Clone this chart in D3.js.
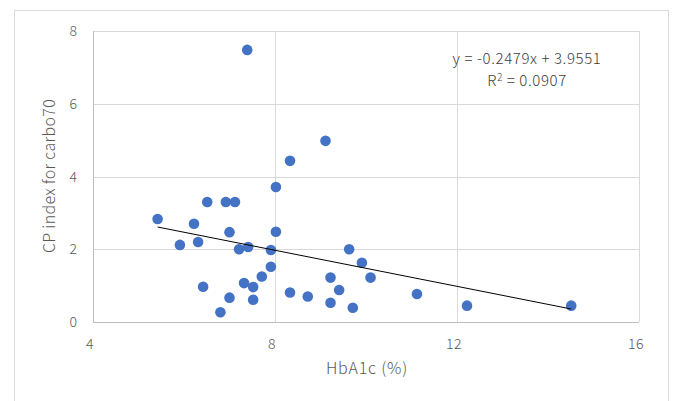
<!DOCTYPE html>
<html>
<head>
<meta charset="utf-8">
<title>CP index vs HbA1c</title>
<script src="https://d3js.org/d3.v7.min.js"></script>
<style>
body { margin:0; background:#fff; }
svg text { font-family: "Noto Sans CJK JP", "Noto Sans", sans-serif; fill:#595959; font-weight:300; }
</style>
</head>
<body>
<svg id="chart" width="675" height="401"></svg>
<script>
// data
var hba1c = [7.39, 8.33, 9.11, 8.02, 6.51, 6.92, 7.12, 5.42, 6.22, 7.00, 8.02, 5.91,
             6.31, 7.21, 7.41, 7.91, 9.63, 9.91, 10.10, 9.22, 7.91, 7.71, 7.32, 7.52,
             6.42, 7.00, 7.52, 6.80, 8.33, 8.72, 9.41, 9.22, 9.71, 11.12, 12.22, 14.51];
var cpIndex = [7.48, 4.43, 4.98, 3.71, 3.30, 3.30, 3.30, 2.83, 2.70, 2.47, 2.48, 2.12,
               2.20, 2.00, 2.06, 1.98, 2.00, 1.63, 1.22, 1.22, 1.52, 1.25, 1.07, 0.96,
               0.97, 0.67, 0.61, 0.27, 0.81, 0.70, 0.88, 0.53, 0.39, 0.77, 0.45, 0.45];
var xTicks = [4, 8, 12, 16];
var yTicks = [0, 2, 4, 6, 8];
var slope = -0.2479, intercept = 3.9551;
var eqLabel = "y = -0.2479x + 3.9551";

var svg = d3.select("#chart");
var x = d3.scaleLinear().domain([4, 16]).range([93, 639]);
var y = d3.scaleLinear().domain([0, 8]).range([322, 31]);

// chart frame
svg.append("rect").attr("x", 14.5).attr("y", 10.5).attr("width", 654).attr("height", 400)
  .attr("fill", "none").attr("stroke", "#d9d9d9");

// gridlines
svg.append("g").selectAll("line").data(yTicks).enter().append("line")
  .attr("x1", x(4)).attr("x2", x(16))
  .attr("y1", function(d){ return Math.round(y(d)) + 0.5; })
  .attr("y2", function(d){ return Math.round(y(d)) + 0.5; })
  .attr("stroke", function(d){ return d === 0 ? "#bfbfbf" : "#d9d9d9"; });
svg.append("g").selectAll("line").data(xTicks).enter().append("line")
  .attr("y1", y(0)).attr("y2", y(8))
  .attr("x1", function(d){ return Math.round(x(d)) + 0.5; })
  .attr("x2", function(d){ return Math.round(x(d)) + 0.5; })
  .attr("stroke", function(d){ return d === 4 ? "#bfbfbf" : "#d9d9d9"; });

// tick labels
svg.append("g").selectAll("text").data(yTicks).enter().append("text")
  .attr("x", 77).attr("y", function(d){ return y(d) + 5; })
  .attr("text-anchor", "end").attr("font-size", 14).text(function(d){ return d; });
svg.append("g").selectAll("text").data(xTicks).enter().append("text")
  .attr("x", function(d){ return x(d) - 3; }).attr("y", 349)
  .attr("text-anchor", "middle").attr("font-size", 14).style("letter-spacing", "0.5px")
  .text(function(d){ return d; });

// axis titles
svg.append("text").attr("transform", "translate(55,176) rotate(-90)")
  .attr("text-anchor", "middle").attr("font-size", 16).style("letter-spacing", "0.3px")
  .text("CP index for carbo70");
svg.append("text").attr("x", 367).attr("y", 374)
  .attr("text-anchor", "middle").attr("font-size", 16).style("letter-spacing", "0.8px")
  .text("HbA1c (%)");

// points
svg.append("g").selectAll("circle").data(hba1c).enter().append("circle")
  .attr("cx", function(d){ return x(d); })
  .attr("cy", function(d, i){ return y(cpIndex[i]); })
  .attr("r", 5.3).attr("fill", "#4472c4");

// linear trendline
var xExt = d3.extent(hba1c);
svg.append("path")
  .datum(xExt)
  .attr("d", d3.line().x(function(d){ return x(d); }).y(function(d){ return y(slope * d + intercept); }))
  .attr("stroke", "#000").attr("stroke-width", 1).attr("fill", "none");

// equation
svg.append("text").attr("x", 527).attr("y", 64).attr("text-anchor", "middle")
  .attr("font-size", 15).style("letter-spacing", "0.6px").style("fill", "#404040").text(eqLabel);
var r2 = svg.append("text").attr("x", 527).attr("y", 86).attr("text-anchor", "middle")
  .attr("font-size", 15).style("letter-spacing", "0.6px").style("fill", "#404040");
r2.append("tspan").text("R");
r2.append("tspan").attr("font-size", 10).attr("dy", -5).text("2");
r2.append("tspan").attr("dy", 5).text(" = 0.0907");
</script>
</body>
</html>
